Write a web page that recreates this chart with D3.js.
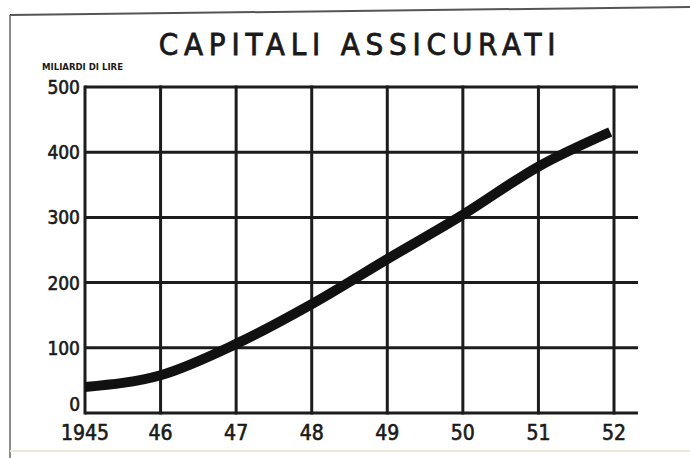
<!DOCTYPE html>
<html>
<head>
<meta charset="utf-8">
<script src="https://cdn.jsdelivr.net/npm/d3@7"></script>
<style>
  html, body { margin: 0; padding: 0; background: #fff; }
  svg { display: block; }
  text { font-family: "DejaVu Sans", sans-serif; font-stretch: condensed; fill: #1a1a1a; }
</style>
</head>
<body>
<svg id="chart" width="690" height="458"></svg>
<script>
const years = [1945, 1946, 1947, 1948, 1949, 1950, 1951, 1952];
const yearLabels = ["1945", "46", "47", "48", "49", "50", "51", "52"];
const values = [40, 58, 106, 167, 236, 304, 378, 431];
const yTicks = [0, 100, 200, 300, 400, 500];
const title = "CAPITALI ASSICURATI";
const unitLabel = "MILIARDI DI LIRE";

(function () {
const svg = d3.select("#chart");
const W = 690, H = 458;
const mLeft = 85, mRight = 614, mTop = 87, mBottom = 413;
const gridRightExtend = 638;

const x = d3.scaleLinear().domain([1945, 1952]).range([mLeft, mRight]);
const y = d3.scaleLinear().domain([0, 500]).range([mBottom, mTop]);

// frame
svg.append("rect").attr("x", 0).attr("y", 0).attr("width", W).attr("height", H).attr("fill", "#fff");
svg.append("line").attr("x1", 10).attr("y1", 15).attr("x2", 690).attr("y2", 7)
  .attr("stroke", "#555").attr("stroke-width", 2);
svg.append("line").attr("x1", 10).attr("y1", 15).attr("x2", 10).attr("y2", 458)
  .attr("stroke", "#666").attr("stroke-width", 1.5);
svg.append("line").attr("x1", 10).attr("y1", 451).attr("x2", 690).attr("y2", 451)
  .attr("stroke", "#ece8d8").attr("stroke-width", 2);

// horizontal grid
svg.append("g").selectAll("line").data(yTicks).join("line")
  .attr("x1", mLeft).attr("x2", gridRightExtend)
  .attr("y1", d => y(d)).attr("y2", d => y(d))
  .attr("stroke", "#1c1c1c").attr("stroke-width", 3);

// vertical grid
svg.append("g").selectAll("line").data(years).join("line")
  .attr("x1", d => x(d)).attr("x2", d => x(d))
  .attr("y1", y(500) - 1.5).attr("y2", y(0) + 1.5)
  .attr("stroke", "#1c1c1c").attr("stroke-width", 3);

// y labels
svg.append("g").selectAll("text").data(yTicks).join("text")
  .attr("x", mLeft - 5)
  .attr("y", d => y(d) + (d === 0 ? -2 : 7))
  .attr("text-anchor", "end")
  .attr("font-size", 19)
  .attr("stroke", "#1a1a1a").attr("stroke-width", 0.6)
  .text(d => d);

// x labels
svg.append("g").selectAll("text").data(years).join("text")
  .attr("x", d => x(d))
  .attr("y", 440)
  .attr("text-anchor", "middle")
  .attr("font-size", 21)
  .attr("stroke", "#1a1a1a").attr("stroke-width", 0.6)
  .text((d, i) => yearLabels[i]);

// unit label
svg.append("text").attr("x", 42).attr("y", 70)
  .attr("font-size", 9.5).attr("font-weight", "bold")
  .text(unitLabel);

// title
svg.append("text").attr("x", 360).attr("y", 55)
  .attr("text-anchor", "middle")
  .attr("font-size", 31)
  .attr("letter-spacing", 5.8)
  .attr("stroke", "#1a1a1a").attr("stroke-width", 0.8)
  .text(title);

// data line
const line = d3.line()
  .x(d => x(d[0]))
  .y(d => y(d[1]))
  .curve(d3.curveMonotoneX);
const pts = years.map((yr, i) => [yr === 1952 ? 1951.95 : yr, values[i]]);
svg.append("path").datum(pts)
  .attr("d", line)
  .attr("fill", "none")
  .attr("stroke", "#111")
  .attr("stroke-width", 10)
  .attr("stroke-linecap", "butt")
  .attr("stroke-linejoin", "round");
})();
</script>
</body>
</html>
